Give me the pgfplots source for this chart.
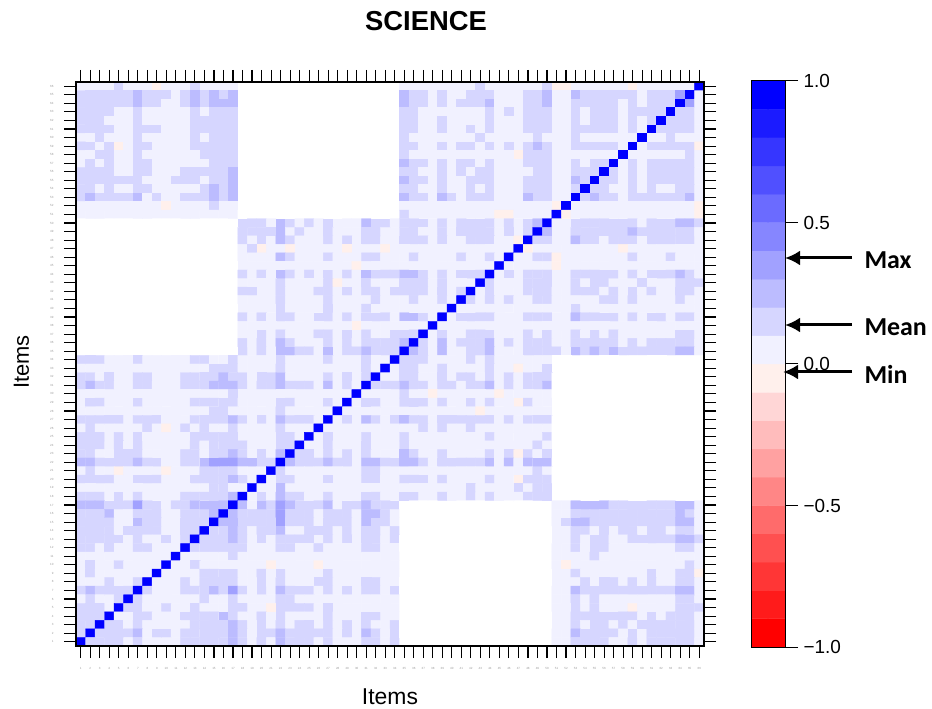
\documentclass[border=0pt]{standalone}
\usepackage{pgfplots}
\pgfplotsset{compat=1.18}
\usepackage{fontspec}
\setmainfont{Liberation Sans}
\newfontfamily\calib{Carlito}
\usetikzlibrary{arrows.meta}
\pgfplotsset{
  colormap={rwb}{rgb255=(255,0,0) rgb255=(255,27,27) rgb255=(255,54,54) rgb255=(255,80,80) rgb255=(255,107,107) rgb255=(255,134,134) rgb255=(255,161,161) rgb255=(255,188,188) rgb255=(255,214,214) rgb255=(255,240,236) rgb255=(241,241,255) rgb255=(214,214,255) rgb255=(188,188,255) rgb255=(161,161,255) rgb255=(134,134,255) rgb255=(107,107,255) rgb255=(80,80,255) rgb255=(54,54,255) rgb255=(27,27,255) rgb255=(0,0,255) rgb255=(255,255,255)},
}
\begin{document}
\begin{tikzpicture}[x=1bp,y=1bp]
\path (0,0) rectangle (932,708);
\begin{axis}[at={(76bp,62bp)},anchor=south west,scale only axis,width=628bp,height=564bp,
  xmin=0.5,xmax=66.5,ymin=0.5,ymax=66.5,
  xtick={1,...,66},ytick={1,...,66},
  tick align=outside,major tick length=12bp,
  xtick pos=both,ytick pos=both,xticklabel pos=lower,yticklabel pos=left,
  tick style={black,line width=1.1bp},
  axis line style={line width=1.6bp},
  axis on top,
  /pgf/number format/assume math mode=true,
  tick label style={font=\fontsize{3}{3}\selectfont,text=black!40},
  xticklabel style={yshift=-6bp},
  yticklabel style={xshift=-7bp},
  colormap name=rwb,colormap access=piecewise constant,
  point meta min=-10.5,point meta max=10.5]
\addplot[matrix plot*,mesh/cols=66,point meta=explicit] table[row sep=crcr,header=false,x expr={\coordindex-66*floor((\coordindex+0.5)/66)+1},y expr={66-floor((\coordindex+0.5)/66)},meta index=0] {
0\\0\\0\\0\\1\\0\\0\\0\\-1\\0\\0\\0\\1\\0\\0\\0\\0\\10\\10\\10\\10\\10\\10\\10\\10\\10\\10\\10\\10\\10\\10\\10\\10\\10\\0\\0\\0\\0\\0\\0\\0\\0\\1\\0\\0\\0\\0\\0\\0\\1\\-1\\-1\\0\\0\\0\\0\\0\\0\\-1\\0\\0\\0\\0\\0\\0\\9\\
1\\1\\1\\1\\1\\1\\2\\1\\1\\1\\0\\1\\2\\1\\2\\1\\2\\10\\10\\10\\10\\10\\10\\10\\10\\10\\10\\10\\10\\10\\10\\10\\10\\10\\2\\1\\1\\0\\1\\0\\0\\1\\1\\1\\0\\0\\0\\1\\1\\2\\0\\0\\2\\1\\1\\1\\1\\1\\1\\0\\1\\1\\1\\3\\9\\0\\
1\\1\\1\\1\\1\\1\\2\\1\\1\\0\\0\\1\\2\\1\\2\\2\\2\\10\\10\\10\\10\\10\\10\\10\\10\\10\\10\\10\\10\\10\\10\\10\\10\\10\\2\\1\\1\\0\\1\\0\\1\\1\\1\\2\\0\\0\\0\\1\\1\\2\\0\\0\\1\\1\\1\\1\\1\\0\\1\\0\\1\\1\\1\\9\\3\\0\\
1\\1\\1\\1\\0\\0\\1\\0\\0\\0\\0\\0\\1\\0\\1\\1\\1\\10\\10\\10\\10\\10\\10\\10\\10\\10\\10\\10\\10\\10\\10\\10\\10\\10\\1\\1\\0\\0\\0\\0\\0\\0\\0\\1\\0\\1\\0\\1\\1\\1\\0\\0\\1\\0\\1\\1\\1\\0\\1\\1\\1\\1\\9\\1\\1\\0\\
1\\1\\1\\0\\0\\0\\1\\0\\0\\0\\0\\0\\1\\1\\1\\1\\1\\10\\10\\10\\10\\10\\10\\10\\10\\10\\10\\10\\10\\10\\10\\10\\10\\10\\1\\1\\0\\0\\1\\0\\0\\0\\0\\1\\0\\0\\0\\1\\1\\1\\0\\0\\1\\0\\1\\1\\1\\0\\1\\0\\1\\9\\1\\1\\1\\0\\
1\\1\\1\\1\\0\\0\\1\\1\\1\\0\\0\\0\\1\\1\\1\\1\\1\\10\\10\\10\\10\\10\\10\\10\\10\\10\\10\\10\\10\\10\\10\\10\\10\\10\\1\\1\\0\\0\\1\\0\\0\\1\\0\\1\\0\\0\\0\\1\\1\\1\\0\\0\\1\\1\\1\\1\\1\\0\\1\\0\\9\\1\\1\\1\\1\\0\\
0\\0\\1\\0\\0\\0\\1\\0\\0\\0\\0\\0\\1\\0\\1\\1\\1\\10\\10\\10\\10\\10\\10\\10\\10\\10\\10\\10\\10\\10\\10\\10\\10\\10\\1\\0\\0\\0\\0\\0\\0\\0\\1\\0\\0\\0\\0\\0\\1\\0\\0\\0\\1\\0\\0\\0\\0\\0\\0\\9\\0\\0\\1\\0\\0\\0\\
1\\1\\0\\1\\-1\\0\\1\\1\\0\\0\\0\\0\\1\\1\\1\\1\\1\\10\\10\\10\\10\\10\\10\\10\\10\\10\\10\\10\\10\\10\\10\\10\\10\\10\\1\\1\\0\\0\\1\\0\\1\\1\\0\\1\\0\\1\\0\\1\\2\\1\\0\\0\\1\\1\\1\\1\\1\\0\\9\\0\\1\\1\\1\\1\\1\\-1\\
0\\0\\1\\1\\0\\0\\1\\0\\0\\0\\0\\0\\0\\1\\1\\1\\1\\10\\10\\10\\10\\10\\10\\10\\10\\10\\10\\10\\10\\10\\10\\10\\10\\10\\1\\0\\0\\0\\0\\0\\0\\0\\0\\0\\0\\0\\-1\\1\\1\\1\\0\\0\\0\\0\\0\\0\\0\\9\\0\\0\\0\\0\\0\\0\\1\\0\\
0\\1\\0\\1\\0\\0\\1\\1\\0\\0\\0\\0\\0\\0\\1\\1\\1\\10\\10\\10\\10\\10\\10\\10\\10\\10\\10\\10\\10\\10\\10\\10\\10\\10\\2\\1\\1\\0\\1\\0\\1\\1\\0\\1\\0\\0\\0\\1\\1\\1\\0\\0\\1\\0\\1\\1\\9\\0\\1\\0\\1\\1\\1\\1\\1\\0\\
1\\1\\1\\1\\0\\0\\1\\1\\0\\0\\0\\1\\1\\1\\1\\1\\2\\10\\10\\10\\10\\10\\10\\10\\10\\10\\10\\10\\10\\10\\10\\10\\10\\10\\1\\1\\0\\0\\1\\0\\1\\0\\1\\1\\0\\0\\0\\0\\1\\1\\0\\0\\1\\1\\1\\9\\1\\0\\1\\0\\1\\1\\1\\1\\1\\0\\
1\\1\\1\\1\\1\\1\\1\\0\\0\\0\\1\\1\\1\\0\\1\\1\\2\\10\\10\\10\\10\\10\\10\\10\\10\\10\\10\\10\\10\\10\\10\\10\\10\\10\\2\\1\\1\\0\\1\\0\\0\\1\\1\\1\\0\\0\\0\\1\\1\\1\\0\\0\\2\\1\\9\\1\\1\\0\\1\\0\\1\\1\\1\\1\\1\\0\\
1\\1\\0\\1\\0\\0\\1\\1\\0\\0\\0\\0\\0\\1\\2\\1\\2\\10\\10\\10\\10\\10\\10\\10\\10\\10\\10\\10\\10\\10\\10\\10\\10\\10\\1\\1\\0\\0\\1\\0\\0\\1\\0\\1\\0\\0\\0\\1\\1\\1\\0\\0\\1\\9\\1\\1\\0\\0\\1\\0\\1\\0\\0\\1\\1\\0\\
1\\2\\1\\1\\1\\1\\2\\0\\1\\0\\0\\1\\1\\1\\2\\1\\2\\10\\10\\10\\10\\10\\10\\10\\10\\10\\10\\10\\10\\10\\10\\10\\10\\10\\2\\1\\1\\0\\2\\1\\0\\1\\1\\1\\0\\0\\0\\2\\1\\1\\0\\0\\9\\1\\2\\1\\1\\0\\1\\1\\1\\1\\1\\1\\2\\0\\
0\\0\\0\\0\\0\\0\\0\\0\\0\\-1\\0\\0\\0\\0\\1\\0\\0\\10\\10\\10\\10\\10\\10\\10\\10\\10\\10\\10\\10\\10\\10\\10\\10\\10\\0\\0\\0\\0\\0\\0\\0\\0\\0\\0\\0\\0\\0\\0\\0\\0\\-1\\9\\0\\0\\0\\0\\0\\0\\0\\0\\0\\0\\0\\0\\0\\-1\\
0\\0\\0\\0\\0\\0\\0\\0\\0\\0\\0\\0\\0\\0\\0\\0\\0\\10\\10\\10\\10\\10\\10\\10\\10\\10\\10\\10\\10\\10\\10\\10\\10\\10\\1\\0\\0\\0\\0\\0\\0\\0\\0\\0\\-1\\-1\\0\\0\\0\\0\\9\\-1\\0\\0\\0\\0\\0\\0\\0\\0\\0\\0\\0\\0\\0\\-1\\
10\\10\\10\\10\\10\\10\\10\\10\\10\\10\\10\\10\\10\\10\\10\\10\\10\\1\\1\\1\\0\\2\\1\\0\\1\\0\\1\\0\\0\\0\\2\\1\\1\\0\\1\\1\\1\\0\\1\\0\\1\\1\\1\\1\\0\\1\\0\\1\\2\\9\\0\\0\\1\\1\\1\\1\\1\\1\\1\\0\\1\\1\\1\\2\\2\\1\\
10\\10\\10\\10\\10\\10\\10\\10\\10\\10\\10\\10\\10\\10\\10\\10\\10\\1\\1\\1\\1\\2\\0\\1\\0\\0\\1\\0\\0\\0\\1\\1\\0\\0\\1\\1\\0\\0\\1\\0\\1\\1\\1\\1\\0\\1\\0\\1\\9\\2\\0\\0\\1\\1\\1\\1\\1\\1\\2\\1\\1\\1\\1\\1\\1\\0\\
10\\10\\10\\10\\10\\10\\10\\10\\10\\10\\10\\10\\10\\10\\10\\10\\10\\1\\0\\1\\0\\2\\1\\0\\0\\0\\1\\0\\1\\0\\1\\1\\0\\0\\1\\1\\1\\0\\1\\0\\0\\1\\1\\1\\0\\0\\-1\\9\\1\\1\\0\\0\\2\\1\\1\\0\\1\\1\\1\\0\\1\\1\\1\\1\\1\\0\\
10\\10\\10\\10\\10\\10\\10\\10\\10\\10\\10\\10\\10\\10\\10\\10\\10\\0\\1\\-1\\0\\0\\-1\\0\\0\\0\\0\\0\\-1\\0\\0\\0\\-1\\0\\0\\0\\0\\0\\0\\0\\0\\0\\0\\0\\0\\0\\9\\-1\\0\\0\\0\\0\\0\\0\\0\\0\\0\\-1\\0\\0\\0\\0\\0\\0\\0\\0\\
10\\10\\10\\10\\10\\10\\10\\10\\10\\10\\10\\10\\10\\10\\10\\10\\10\\0\\0\\0\\0\\2\\1\\0\\0\\0\\1\\0\\0\\0\\1\\1\\0\\0\\0\\1\\0\\0\\0\\0\\1\\0\\0\\1\\0\\9\\0\\0\\1\\1\\-1\\0\\0\\0\\0\\0\\0\\0\\1\\0\\0\\0\\1\\0\\0\\0\\
10\\10\\10\\10\\10\\10\\10\\10\\10\\10\\10\\10\\10\\10\\10\\10\\10\\0\\0\\0\\0\\0\\0\\0\\0\\0\\0\\0\\0\\-1\\0\\0\\0\\0\\0\\0\\0\\0\\0\\0\\0\\0\\0\\0\\9\\0\\0\\0\\0\\0\\-1\\0\\0\\0\\0\\0\\0\\0\\0\\0\\0\\0\\0\\0\\0\\0\\
10\\10\\10\\10\\10\\10\\10\\10\\10\\10\\10\\10\\10\\10\\10\\10\\10\\1\\0\\1\\0\\2\\1\\0\\1\\0\\1\\0\\1\\0\\2\\1\\1\\1\\2\\2\\1\\0\\1\\0\\1\\1\\1\\9\\0\\1\\0\\1\\1\\1\\0\\0\\1\\1\\1\\1\\1\\0\\1\\0\\1\\1\\1\\2\\1\\0\\
10\\10\\10\\10\\10\\10\\10\\10\\10\\10\\10\\10\\10\\10\\10\\10\\10\\0\\0\\0\\0\\1\\0\\0\\0\\0\\1\\-1\\0\\0\\1\\0\\0\\0\\1\\1\\1\\0\\1\\0\\0\\0\\9\\1\\0\\0\\0\\1\\1\\1\\0\\0\\1\\0\\1\\1\\0\\0\\0\\1\\0\\0\\0\\1\\1\\1\\
10\\10\\10\\10\\10\\10\\10\\10\\10\\10\\10\\10\\10\\10\\10\\10\\10\\1\\1\\0\\0\\1\\0\\0\\0\\1\\1\\0\\1\\0\\1\\1\\0\\1\\1\\1\\1\\0\\1\\0\\1\\9\\0\\1\\0\\0\\0\\1\\1\\1\\0\\0\\1\\1\\1\\0\\1\\0\\1\\0\\1\\0\\0\\1\\1\\0\\
10\\10\\10\\10\\10\\10\\10\\10\\10\\10\\10\\10\\10\\10\\10\\10\\10\\0\\0\\0\\0\\1\\0\\0\\0\\0\\1\\0\\0\\0\\0\\1\\0\\0\\0\\1\\0\\0\\1\\0\\9\\1\\0\\1\\0\\1\\0\\0\\1\\1\\0\\0\\0\\0\\0\\1\\1\\0\\1\\0\\0\\0\\0\\1\\0\\0\\
10\\10\\10\\10\\10\\10\\10\\10\\10\\10\\10\\10\\10\\10\\10\\10\\10\\0\\0\\0\\0\\1\\0\\0\\0\\0\\1\\0\\0\\0\\1\\0\\0\\0\\0\\0\\0\\0\\0\\9\\0\\0\\0\\0\\0\\0\\0\\0\\0\\0\\0\\0\\1\\0\\0\\0\\0\\0\\0\\0\\0\\0\\0\\0\\0\\0\\
10\\10\\10\\10\\10\\10\\10\\10\\10\\10\\10\\10\\10\\10\\10\\10\\10\\1\\0\\1\\0\\1\\1\\0\\0\\1\\1\\0\\1\\0\\1\\1\\1\\0\\2\\2\\1\\0\\9\\0\\1\\1\\1\\1\\0\\0\\0\\1\\1\\1\\0\\0\\2\\1\\1\\1\\1\\0\\1\\0\\1\\1\\0\\1\\1\\0\\
10\\10\\10\\10\\10\\10\\10\\10\\10\\10\\10\\10\\10\\10\\10\\10\\10\\0\\0\\0\\0\\0\\0\\0\\0\\0\\0\\0\\0\\-1\\0\\0\\0\\0\\0\\0\\0\\9\\0\\0\\0\\0\\0\\0\\0\\0\\0\\0\\0\\0\\0\\0\\0\\0\\0\\0\\0\\0\\0\\0\\0\\0\\0\\0\\0\\0\\
10\\10\\10\\10\\10\\10\\10\\10\\10\\10\\10\\10\\10\\10\\10\\10\\10\\0\\0\\1\\0\\1\\0\\0\\0\\1\\1\\0\\1\\0\\1\\0\\0\\1\\1\\1\\9\\0\\1\\0\\0\\1\\1\\1\\0\\0\\0\\1\\0\\1\\0\\0\\1\\0\\1\\0\\1\\0\\0\\0\\0\\0\\0\\1\\1\\0\\
10\\10\\10\\10\\10\\10\\10\\10\\10\\10\\10\\10\\10\\10\\10\\10\\10\\1\\0\\1\\0\\2\\1\\0\\0\\0\\1\\0\\1\\0\\1\\1\\1\\1\\2\\9\\1\\0\\2\\0\\1\\1\\1\\2\\0\\1\\0\\1\\1\\1\\0\\0\\1\\1\\1\\1\\1\\0\\1\\0\\1\\1\\1\\1\\1\\0\\
10\\10\\10\\10\\10\\10\\10\\10\\10\\10\\10\\10\\10\\10\\10\\10\\10\\1\\0\\1\\0\\2\\2\\1\\1\\0\\2\\0\\1\\1\\2\\1\\1\\1\\9\\2\\1\\0\\2\\0\\0\\1\\1\\2\\0\\0\\0\\1\\1\\1\\1\\0\\2\\1\\2\\1\\2\\1\\1\\1\\1\\1\\1\\2\\2\\0\\
1\\1\\1\\0\\0\\0\\1\\0\\0\\0\\0\\0\\1\\1\\0\\0\\1\\0\\0\\0\\0\\1\\0\\0\\0\\0\\1\\0\\0\\0\\1\\0\\0\\9\\1\\1\\1\\0\\0\\0\\0\\1\\0\\1\\0\\0\\0\\0\\0\\0\\10\\10\\10\\10\\10\\10\\10\\10\\10\\10\\10\\10\\10\\10\\10\\10\\
0\\0\\0\\0\\0\\0\\0\\0\\0\\0\\0\\0\\0\\0\\1\\1\\1\\0\\0\\0\\0\\1\\0\\0\\0\\0\\0\\0\\0\\0\\1\\0\\9\\0\\1\\1\\0\\0\\1\\0\\0\\0\\0\\1\\0\\0\\-1\\0\\0\\1\\10\\10\\10\\10\\10\\10\\10\\10\\10\\10\\10\\10\\10\\10\\10\\10\\
1\\1\\0\\1\\0\\0\\1\\1\\0\\0\\0\\1\\1\\1\\1\\2\\1\\1\\0\\1\\1\\2\\0\\0\\0\\0\\1\\0\\1\\0\\1\\9\\0\\0\\1\\1\\0\\0\\1\\0\\1\\1\\0\\1\\0\\1\\0\\1\\1\\1\\10\\10\\10\\10\\10\\10\\10\\10\\10\\10\\10\\10\\10\\10\\10\\10\\
1\\2\\1\\1\\0\\0\\1\\1\\0\\0\\0\\1\\1\\1\\2\\2\\2\\1\\0\\1\\1\\2\\1\\1\\1\\0\\2\\0\\1\\0\\9\\1\\1\\1\\2\\1\\1\\0\\1\\1\\0\\1\\1\\2\\0\\1\\0\\1\\1\\2\\10\\10\\10\\10\\10\\10\\10\\10\\10\\10\\10\\10\\10\\10\\10\\10\\
0\\0\\0\\0\\0\\0\\0\\0\\0\\0\\0\\0\\0\\0\\0\\0\\1\\0\\0\\0\\0\\0\\0\\0\\0\\0\\0\\0\\0\\9\\0\\0\\0\\0\\1\\0\\0\\-1\\0\\0\\0\\0\\0\\0\\-1\\0\\0\\0\\0\\0\\10\\10\\10\\10\\10\\10\\10\\10\\10\\10\\10\\10\\10\\10\\10\\10\\
0\\1\\1\\0\\0\\0\\1\\0\\0\\0\\0\\0\\1\\1\\1\\1\\1\\0\\0\\0\\0\\1\\1\\0\\0\\0\\1\\0\\9\\0\\1\\1\\0\\0\\1\\1\\1\\0\\1\\0\\0\\1\\0\\1\\0\\0\\-1\\1\\0\\0\\10\\10\\10\\10\\10\\10\\10\\10\\10\\10\\10\\10\\10\\10\\10\\10\\
0\\0\\0\\0\\0\\0\\0\\0\\0\\0\\0\\0\\0\\0\\1\\1\\0\\0\\0\\0\\0\\1\\0\\0\\0\\0\\0\\9\\0\\0\\0\\0\\0\\0\\0\\0\\0\\0\\0\\0\\0\\0\\-1\\0\\0\\0\\0\\0\\0\\0\\10\\10\\10\\10\\10\\10\\10\\10\\10\\10\\10\\10\\10\\10\\10\\10\\
1\\1\\1\\1\\1\\0\\1\\1\\1\\0\\0\\0\\1\\1\\1\\1\\2\\1\\0\\1\\0\\2\\1\\1\\1\\0\\9\\0\\1\\0\\2\\1\\0\\1\\2\\1\\1\\0\\1\\1\\1\\1\\1\\1\\0\\1\\0\\1\\1\\1\\10\\10\\10\\10\\10\\10\\10\\10\\10\\10\\10\\10\\10\\10\\10\\10\\
0\\1\\0\\0\\0\\0\\0\\1\\0\\-1\\0\\1\\0\\1\\0\\0\\1\\0\\0\\0\\0\\1\\0\\0\\0\\9\\0\\0\\0\\0\\0\\0\\0\\0\\0\\0\\1\\0\\1\\0\\0\\1\\0\\0\\0\\0\\0\\0\\0\\0\\10\\10\\10\\10\\10\\10\\10\\10\\10\\10\\10\\10\\10\\10\\10\\10\\
1\\1\\1\\0\\1\\0\\1\\0\\0\\0\\0\\0\\1\\1\\1\\1\\1\\0\\0\\0\\0\\1\\1\\0\\9\\0\\1\\0\\0\\0\\1\\0\\0\\0\\1\\0\\0\\0\\0\\0\\0\\0\\0\\1\\0\\0\\0\\0\\0\\1\\10\\10\\10\\10\\10\\10\\10\\10\\10\\10\\10\\10\\10\\10\\10\\10\\
1\\1\\1\\0\\1\\0\\1\\0\\0\\0\\0\\0\\1\\0\\1\\1\\1\\1\\0\\0\\0\\1\\1\\9\\0\\0\\1\\0\\0\\0\\1\\0\\0\\0\\1\\0\\0\\0\\0\\0\\0\\0\\0\\0\\0\\0\\0\\0\\1\\0\\10\\10\\10\\10\\10\\10\\10\\10\\10\\10\\10\\10\\10\\10\\10\\10\\
1\\1\\0\\0\\1\\1\\1\\0\\0\\0\\0\\1\\1\\0\\1\\1\\2\\1\\0\\1\\0\\2\\9\\1\\1\\0\\1\\0\\1\\0\\1\\0\\0\\0\\2\\1\\0\\0\\1\\0\\0\\0\\0\\1\\0\\1\\-1\\1\\0\\1\\10\\10\\10\\10\\10\\10\\10\\10\\10\\10\\10\\10\\10\\10\\10\\10\\
2\\2\\1\\1\\1\\1\\2\\1\\1\\0\\0\\1\\1\\2\\3\\3\\3\\2\\2\\1\\1\\9\\2\\1\\1\\1\\2\\1\\1\\0\\2\\2\\1\\1\\2\\2\\1\\0\\1\\1\\1\\1\\1\\2\\0\\2\\0\\2\\2\\2\\10\\10\\10\\10\\10\\10\\10\\10\\10\\10\\10\\10\\10\\10\\10\\10\\
0\\1\\0\\0\\-1\\0\\0\\0\\0\\-1\\0\\0\\0\\1\\1\\1\\1\\0\\0\\0\\9\\1\\0\\0\\0\\0\\0\\0\\0\\0\\1\\1\\0\\0\\0\\0\\0\\0\\0\\0\\0\\0\\0\\0\\0\\0\\0\\0\\1\\0\\10\\10\\10\\10\\10\\10\\10\\10\\10\\10\\10\\10\\10\\10\\10\\10\\
1\\1\\1\\1\\0\\0\\1\\1\\1\\0\\0\\0\\1\\1\\1\\1\\2\\1\\0\\9\\0\\1\\1\\0\\0\\0\\1\\0\\0\\0\\1\\1\\0\\0\\1\\1\\1\\0\\1\\0\\0\\0\\0\\1\\0\\0\\-1\\1\\1\\1\\10\\10\\10\\10\\10\\10\\10\\10\\10\\10\\10\\10\\10\\10\\10\\10\\
0\\0\\0\\0\\0\\0\\0\\0\\0\\0\\0\\0\\0\\0\\1\\1\\0\\0\\9\\0\\0\\2\\0\\0\\0\\0\\0\\0\\0\\0\\0\\0\\0\\0\\0\\0\\0\\0\\0\\0\\0\\1\\0\\0\\0\\0\\1\\0\\1\\1\\10\\10\\10\\10\\10\\10\\10\\10\\10\\10\\10\\10\\10\\10\\10\\10\\
1\\1\\1\\0\\1\\0\\1\\0\\0\\0\\0\\1\\1\\1\\1\\1\\2\\9\\0\\1\\0\\2\\1\\1\\0\\0\\1\\0\\0\\0\\1\\1\\0\\0\\1\\1\\0\\0\\1\\0\\0\\1\\0\\1\\0\\0\\0\\1\\1\\1\\10\\10\\10\\10\\10\\10\\10\\10\\10\\10\\10\\10\\10\\10\\10\\10\\
2\\2\\2\\1\\1\\1\\3\\1\\1\\0\\1\\1\\2\\2\\2\\2\\9\\2\\0\\2\\1\\3\\2\\1\\1\\1\\2\\0\\1\\1\\2\\1\\1\\1\\10\\10\\10\\10\\10\\10\\10\\10\\10\\10\\10\\10\\10\\10\\10\\10\\0\\0\\2\\2\\2\\2\\1\\1\\1\\1\\1\\1\\1\\2\\2\\0\\
1\\1\\1\\2\\0\\0\\1\\1\\1\\0\\0\\1\\1\\1\\2\\9\\2\\1\\1\\1\\1\\3\\1\\1\\1\\0\\1\\1\\1\\0\\2\\2\\1\\0\\10\\10\\10\\10\\10\\10\\10\\10\\10\\10\\10\\10\\10\\10\\10\\10\\0\\0\\1\\1\\1\\1\\1\\1\\1\\1\\1\\1\\1\\2\\1\\0\\
1\\1\\1\\1\\0\\0\\2\\1\\1\\0\\0\\1\\1\\1\\9\\2\\2\\1\\1\\1\\1\\3\\1\\1\\1\\0\\1\\1\\1\\0\\2\\1\\1\\0\\10\\10\\10\\10\\10\\10\\10\\10\\10\\10\\10\\10\\10\\10\\10\\10\\0\\1\\2\\2\\1\\1\\1\\1\\1\\1\\1\\1\\1\\2\\2\\0\\
1\\1\\1\\1\\0\\1\\1\\1\\1\\0\\0\\1\\1\\9\\1\\1\\2\\1\\0\\1\\1\\2\\0\\0\\1\\1\\1\\0\\1\\0\\1\\1\\0\\1\\10\\10\\10\\10\\10\\10\\10\\10\\10\\10\\10\\10\\10\\10\\10\\10\\0\\0\\1\\1\\0\\1\\0\\1\\1\\0\\1\\1\\0\\1\\1\\0\\
1\\1\\1\\1\\1\\0\\1\\0\\0\\1\\0\\1\\9\\1\\1\\1\\2\\1\\0\\1\\0\\1\\1\\1\\1\\0\\1\\0\\1\\0\\1\\1\\0\\1\\10\\10\\10\\10\\10\\10\\10\\10\\10\\10\\10\\10\\10\\10\\10\\10\\0\\0\\1\\0\\1\\1\\0\\0\\1\\1\\1\\1\\1\\2\\2\\1\\
1\\1\\0\\1\\0\\0\\1\\1\\0\\0\\0\\9\\1\\1\\1\\1\\1\\1\\0\\0\\0\\1\\1\\0\\0\\1\\0\\0\\0\\0\\1\\1\\0\\0\\10\\10\\10\\10\\10\\10\\10\\10\\10\\10\\10\\10\\10\\10\\10\\10\\0\\0\\1\\0\\1\\1\\0\\0\\0\\0\\0\\0\\0\\1\\1\\0\\
0\\0\\0\\0\\0\\0\\0\\0\\0\\0\\9\\0\\0\\0\\0\\0\\1\\0\\0\\0\\0\\0\\0\\0\\0\\0\\0\\0\\0\\0\\0\\0\\0\\0\\10\\10\\10\\10\\10\\10\\10\\10\\10\\10\\10\\10\\10\\10\\10\\10\\0\\0\\0\\0\\1\\0\\0\\0\\0\\0\\0\\0\\0\\0\\0\\0\\
0\\1\\0\\0\\1\\0\\0\\0\\0\\9\\0\\0\\1\\0\\0\\0\\0\\0\\0\\0\\-1\\0\\0\\0\\0\\-1\\0\\0\\0\\0\\0\\0\\0\\0\\10\\10\\10\\10\\10\\10\\10\\10\\10\\10\\10\\10\\10\\10\\10\\10\\0\\-1\\0\\0\\0\\0\\0\\0\\0\\0\\0\\0\\0\\0\\1\\0\\
0\\1\\0\\0\\0\\0\\0\\0\\9\\0\\0\\0\\0\\1\\1\\1\\1\\0\\0\\1\\0\\1\\0\\0\\0\\0\\1\\0\\0\\0\\0\\0\\0\\0\\10\\10\\10\\10\\10\\10\\10\\10\\10\\10\\10\\10\\10\\10\\10\\10\\0\\0\\1\\0\\0\\0\\0\\0\\0\\0\\1\\0\\0\\1\\1\\-1\\
0\\0\\0\\1\\0\\0\\1\\9\\0\\0\\0\\1\\0\\1\\1\\1\\1\\0\\0\\1\\0\\1\\0\\0\\0\\1\\1\\0\\0\\0\\1\\1\\0\\0\\10\\10\\10\\10\\10\\10\\10\\10\\10\\10\\10\\10\\10\\10\\10\\10\\0\\0\\0\\1\\0\\1\\1\\0\\1\\0\\1\\0\\0\\1\\1\\0\\
1\\2\\1\\1\\1\\1\\9\\1\\0\\0\\0\\1\\1\\1\\2\\1\\3\\1\\0\\1\\0\\2\\1\\1\\1\\0\\1\\0\\1\\0\\1\\1\\0\\1\\10\\10\\10\\10\\10\\10\\10\\10\\10\\10\\10\\10\\10\\10\\10\\10\\0\\0\\2\\1\\1\\1\\1\\1\\1\\1\\1\\1\\1\\2\\2\\0\\
0\\1\\0\\0\\1\\9\\1\\0\\0\\0\\0\\0\\0\\1\\0\\0\\1\\0\\0\\0\\0\\1\\1\\0\\0\\0\\0\\0\\0\\0\\0\\0\\0\\0\\10\\10\\10\\10\\10\\10\\10\\10\\10\\10\\10\\10\\10\\10\\10\\10\\0\\0\\1\\0\\1\\0\\0\\0\\0\\0\\0\\0\\0\\1\\1\\0\\
1\\1\\1\\0\\9\\1\\1\\0\\0\\1\\0\\0\\1\\0\\0\\0\\1\\1\\0\\0\\-1\\1\\1\\1\\1\\0\\1\\0\\0\\0\\0\\0\\0\\0\\10\\10\\10\\10\\10\\10\\10\\10\\10\\10\\10\\10\\10\\10\\10\\10\\0\\0\\1\\0\\1\\0\\0\\0\\-1\\0\\0\\0\\0\\1\\1\\1\\
1\\1\\1\\9\\0\\0\\1\\1\\0\\0\\0\\1\\1\\1\\1\\2\\1\\0\\0\\1\\0\\1\\0\\0\\0\\0\\1\\0\\0\\0\\1\\1\\0\\0\\10\\10\\10\\10\\10\\10\\10\\10\\10\\10\\10\\10\\10\\10\\10\\10\\0\\0\\1\\1\\1\\1\\1\\1\\1\\0\\1\\0\\1\\1\\1\\0\\
1\\1\\9\\1\\1\\0\\1\\0\\0\\0\\0\\0\\1\\1\\1\\1\\2\\1\\0\\1\\0\\1\\0\\1\\1\\0\\1\\0\\1\\0\\1\\0\\0\\1\\10\\10\\10\\10\\10\\10\\10\\10\\10\\10\\10\\10\\10\\10\\10\\10\\0\\0\\1\\0\\1\\1\\0\\1\\0\\1\\1\\1\\1\\1\\1\\0\\
1\\9\\1\\1\\1\\1\\2\\0\\1\\1\\0\\1\\1\\1\\1\\1\\2\\1\\0\\1\\1\\2\\1\\1\\1\\1\\1\\0\\1\\0\\2\\1\\0\\1\\10\\10\\10\\10\\10\\10\\10\\10\\10\\10\\10\\10\\10\\10\\10\\10\\0\\0\\2\\1\\1\\1\\1\\0\\1\\0\\1\\1\\1\\1\\1\\0\\
9\\1\\1\\1\\1\\0\\1\\0\\0\\0\\0\\1\\1\\1\\1\\1\\2\\1\\0\\1\\0\\2\\1\\1\\1\\0\\1\\0\\0\\0\\1\\1\\0\\1\\10\\10\\10\\10\\10\\10\\10\\10\\10\\10\\10\\10\\10\\10\\10\\10\\0\\0\\1\\1\\1\\1\\0\\0\\1\\0\\1\\1\\1\\1\\1\\0\\
};
\end{axis}
\begin{axis}[at={(751bp,61bp)},anchor=south west,scale only axis,width=34bp,height=566bp,
  xmin=-0.5,xmax=1.5,ymin=-1,ymax=1,xtick=\empty,
  ytick={-1,-0.5,0,0.5,1},yticklabels={−1.0,−0.5,0.0,0.5,1.0},
  ytick pos=right,yticklabel pos=right,tick align=outside,major tick length=13bp,
  tick style={black,line width=1bp},axis line style={line width=1bp},axis on top,
  yticklabel style={font=\fontsize{19}{19}\selectfont,xshift=2bp},
  colormap name=rwb,colormap access=piecewise constant,
  point meta min=-10.5,point meta max=10.5]
\addplot[matrix plot*,mesh/cols=2,point meta=explicit] table[row sep=crcr,x=x,y=y,meta=l] {
x y l\\
0 -0.95 -10\\1 -0.95 -10\\0 -0.85 -9\\1 -0.85 -9\\0 -0.75 -8\\1 -0.75 -8\\0 -0.65 -7\\1 -0.65 -7\\0 -0.55 -6\\1 -0.55 -6\\
0 -0.45 -5\\1 -0.45 -5\\0 -0.35 -4\\1 -0.35 -4\\0 -0.25 -3\\1 -0.25 -3\\0 -0.15 -2\\1 -0.15 -2\\0 -0.05 -1\\1 -0.05 -1\\
0 0.05 0\\1 0.05 0\\0 0.15 1\\1 0.15 1\\0 0.25 2\\1 0.25 2\\0 0.35 3\\1 0.35 3\\0 0.45 4\\1 0.45 4\\
0 0.55 5\\1 0.55 5\\0 0.65 6\\1 0.65 6\\0 0.75 7\\1 0.75 7\\0 0.85 8\\1 0.85 8\\0 0.95 9\\1 0.95 9\\
};
\end{axis}
\node[font=\bfseries\fontsize{27.5}{27.5}\selectfont] at (426,687) {SCIENCE};
\node[font=\fontsize{23}{23}\selectfont] at (390,11) {Items};
\node[font=\fontsize{22}{22}\selectfont,rotate=90] at (21.5,346) {Items};
\foreach \y/\x in {450/785,383/785,336/783}{
  \draw[line width=3bp,-{Latex[length=15bp,width=15bp]}] (852,\y) -- (\x,\y);
}
\node[font=\calib\bfseries\fontsize{26}{26}\selectfont,anchor=west] at (861,448) {Max};
\node[font=\calib\bfseries\fontsize{26}{26}\selectfont,anchor=west] at (861,381) {Mean};
\node[font=\calib\bfseries\fontsize{26}{26}\selectfont,anchor=west] at (861,334) {Min};
\end{tikzpicture}
\end{document}
